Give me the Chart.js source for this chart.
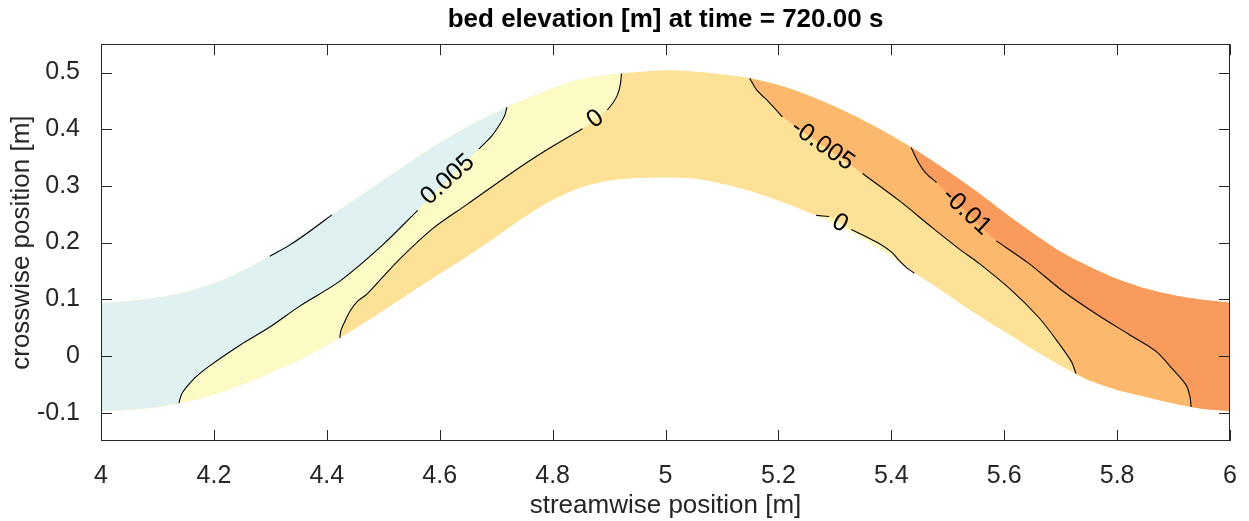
<!DOCTYPE html>
<html>
<head>
<meta charset="utf-8">
<script src="https://cdn.jsdelivr.net/npm/chart.js@4.4.1/dist/chart.umd.min.js"></script>
<style>
  html, body { margin: 0; padding: 0; background: #fff; }
  #bed { display: block; }
</style>
</head>
<body>
<canvas id="bed" width="1249" height="521"></canvas>
<script>
// ===== BED ELEVATION CONTOUR PLOT =====

const X_TICKS = [4, 4.2, 4.4, 4.6, 4.8, 5, 5.2, 5.4, 5.6, 5.8, 6];
const Y_TICKS = [-0.1, 0, 0.1, 0.2, 0.3, 0.4, 0.5];

// channel banks
const STATIONS = [4.00, 4.05, 4.10, 4.15, 4.20, 4.25, 4.30, 4.35, 4.40, 4.45, 4.50,
                  4.55, 4.60, 4.65, 4.70, 4.75, 4.80, 4.85, 4.90, 4.95, 5.00,
                  5.05, 5.10, 5.15, 5.20, 5.25, 5.30, 5.35, 5.40, 5.45, 5.50,
                  5.55, 5.60, 5.65, 5.70, 5.75, 5.80, 5.85, 5.90, 5.95, 6.00];
const BANK_UPPER = [0.093, 0.097, 0.103, 0.113, 0.128, 0.150, 0.177, 0.209, 0.243, 0.276, 0.310,
                    0.344, 0.376, 0.405, 0.430, 0.452, 0.472, 0.488, 0.496, 0.501, 0.504,
                    0.502, 0.497, 0.490, 0.478, 0.461, 0.440, 0.416, 0.389, 0.359, 0.326,
                    0.291, 0.253, 0.217, 0.184, 0.158, 0.136, 0.119, 0.107, 0.099, 0.094];
const BANK_LOWER = [-0.097, -0.095, -0.090, -0.081, -0.068, -0.050, -0.029, -0.007, 0.019, 0.048, 0.080,
                    0.113, 0.145, 0.177, 0.210, 0.245, 0.275, 0.297, 0.309, 0.314, 0.315,
                    0.313, 0.304, 0.291, 0.274, 0.255, 0.233, 0.207, 0.175, 0.141, 0.108,
                    0.074, 0.043, 0.012, -0.017, -0.043, -0.060, -0.072, -0.084, -0.093, -0.097];

// contour lines as [x, y]; null = gap left for the label
const C_P010 = [[4.299, 0.176], [4.335, 0.196], [4.370, 0.220], [4.409, 0.249]];
const C_P005 = [[4.138, -0.083], [4.143, -0.067], [4.154, -0.052], [4.170, -0.035], [4.193, -0.017],
                [4.246, 0.019], [4.299, 0.051], [4.352, 0.088], [4.423, 0.132], [4.499, 0.196],
                [4.561, 0.257], null, [4.669, 0.365], [4.692, 0.388], [4.706, 0.408],
                [4.715, 0.424], [4.719, 0.439]];
const C_ZERO_L = [[4.423, 0.032], [4.425, 0.045], [4.432, 0.061], [4.441, 0.079], [4.455, 0.097],
                  [4.471, 0.109], [4.499, 0.139], [4.529, 0.171], [4.588, 0.225], [4.648, 0.267],
                  [4.742, 0.333], [4.795, 0.367], [4.853, 0.401], null, [4.897, 0.434],
                  [4.908, 0.448], [4.915, 0.461], [4.920, 0.479], [4.922, 0.498]];
const C_ZERO_R = [[5.267, 0.248], [5.290, 0.246], null, [5.329, 0.223], [5.358, 0.209],
                  [5.379, 0.198], [5.402, 0.182], [5.414, 0.168], [5.428, 0.155], [5.441, 0.146]];
const C_M005 = [[5.149, 0.490], [5.161, 0.470], [5.184, 0.447], [5.207, 0.422], null,
                [5.349, 0.322], [5.414, 0.274], [5.473, 0.226], [5.520, 0.189], [5.556, 0.163],
                [5.614, 0.115], [5.662, 0.067], [5.697, 0.022], [5.719, -0.010], [5.727, -0.031]];
const C_M010 = [[5.435, 0.368], [5.446, 0.345], [5.460, 0.324], [5.480, 0.306], null,
                [5.586, 0.203], [5.644, 0.163], [5.703, 0.115], [5.763, 0.074], [5.821, 0.038],
                [5.869, 0.008], [5.897, -0.022], [5.922, -0.051], [5.929, -0.072], [5.931, -0.090]];

const LABELS = [
  { text: '0.005',  x: 4.614, y: 0.311, angle: -42 },
  { text: '0',      x: 4.876, y: 0.418, angle: -37 },
  { text: '-0.005', x: 5.278, y: 0.372, angle: 35 },
  { text: '-0.01',  x: 5.533, y: 0.255, angle: 43 },
  { text: '0',      x: 5.309, y: 0.234, angle: 30 },
];

const FILL = {
  p010: '#c4e3ec',
  p005: '#dff1f1',
  zero: '#fcfbc5',
  m005: '#fce196',
  m010: '#fcb96e',
  m015: '#fa9b5e',
};

const FONT = 'Liberation Sans, Arial, Helvetica, sans-serif';
const INK = '#262626';

// ----- geometry helpers -----
const toPts = (xs, ys) => xs.map((x, i) => ({ x, y: ys[i] }));
const UPPER = toPts(STATIONS, BANK_UPPER);
const LOWER = toPts(STATIONS, BANK_LOWER);
const between = (bank, a, b) => bank.filter(p => p.x > a && p.x < b);
const solid = c => c.filter(Boolean).map(([x, y]) => ({ x, y }));
const broken = c => c.map((p, i) => p ? { x: p[0], y: p[1] } : { x: c[i - 1][0], y: null });
const first = c => c[0][0];
const last = c => c[c.length - 1][0];
const rev = a => a.slice().reverse();
// repeat the joint points so the smoothed outline keeps its corners
const sharp = (...parts) => parts.filter(p => p.length).flatMap((p, i, all) => {
  const out = p.slice();
  if (i > 0) out.unshift(p[0]);
  if (i < all.length - 1) out.push(p[p.length - 1]);
  return out;
});

const channel = sharp(LOWER, rev(UPPER));
const leftZero = sharp(between(LOWER, 3.9, first(C_ZERO_L)), solid(C_ZERO_L),
                       rev(between(UPPER, 3.9, last(C_ZERO_L))));
const leftP005 = sharp(between(LOWER, 3.9, first(C_P005)), solid(C_P005),
                       rev(between(UPPER, 3.9, last(C_P005))));
const sliverP010 = sharp(solid(C_P010), rev(between(UPPER, first(C_P010), last(C_P010))));
const rightM010 = sharp(solid(C_M005), between(LOWER, last(C_M005), 6.1),
                        rev(between(UPPER, first(C_M005), 6.1)));
const rightM015 = sharp(solid(C_M010), between(LOWER, last(C_M010), 6.1),
                        rev(between(UPPER, first(C_M010), 6.1)));
const sliverZero = sharp(solid(C_ZERO_R), rev(between(LOWER, first(C_ZERO_R), last(C_ZERO_R))));

const shape = (label, data, color, order) => ({
  label, data, order,
  backgroundColor: color,
  borderColor: 'rgba(0,0,0,0)',
  borderWidth: 0,
  fill: 'shape',
  showLine: true,
  pointRadius: 0,
  tension: 0.3,
});

const contour = (label, c) => ({
  label, data: broken(c), order: 0,
  borderColor: '#000',
  borderWidth: 1.1,
  fill: false,
  showLine: true,
  spanGaps: false,
  pointRadius: 0,
  tension: 0.3,
});

// ticks pointing inward on all four sides, plus the box
const frame = {
  id: 'frame',
  afterDraw(chart) {
    const { ctx, chartArea: a, scales: { x, y } } = chart;
    const len = 11;
    ctx.save();
    ctx.strokeStyle = INK;
    ctx.lineWidth = 1;
    ctx.beginPath();
    X_TICKS.forEach(v => {
      const px = Math.round(x.getPixelForValue(v)) + 0.5;
      ctx.moveTo(px, a.bottom); ctx.lineTo(px, a.bottom - len);
      ctx.moveTo(px, a.top); ctx.lineTo(px, a.top + len);
    });
    Y_TICKS.forEach(v => {
      const py = Math.round(y.getPixelForValue(v)) + 0.5;
      ctx.moveTo(a.left, py); ctx.lineTo(a.left + len, py);
      ctx.moveTo(a.right, py); ctx.lineTo(a.right - len, py);
    });
    ctx.stroke();
    ctx.strokeRect(Math.round(a.left) + 0.5, Math.round(a.top) + 0.5,
                   Math.round(a.width) - 1, Math.round(a.height) - 1);
    ctx.restore();
  },
};

// rotated level labels sitting in the contour gaps
const levelLabels = {
  id: 'levelLabels',
  afterDatasetsDraw(chart) {
    const { ctx, scales: { x, y } } = chart;
    ctx.save();
    ctx.fillStyle = '#000';
    ctx.font = '25px ' + FONT;
    ctx.textAlign = 'center';
    ctx.textBaseline = 'middle';
    LABELS.forEach(l => {
      ctx.save();
      ctx.translate(x.getPixelForValue(l.x), y.getPixelForValue(l.y));
      ctx.rotate(l.angle * Math.PI / 180);
      ctx.fillText(l.text, 0, 0);
      ctx.restore();
    });
    ctx.restore();
  },
};

const fmt = v => String(Math.round(v * 10) / 10);

new Chart(document.getElementById('bed'), {
  type: 'scatter',
  data: {
    datasets: [
      shape('channel', channel, FILL.m005, 10),
      shape('left 0', leftZero, FILL.zero, 9),
      shape('left 0.005', leftP005, FILL.p005, 8),
      shape('left 0.01', sliverP010, FILL.p010, 7),
      shape('right -0.005', rightM010, FILL.m010, 6),
      shape('right -0.01', rightM015, FILL.m015, 5),
      shape('right 0', sliverZero, FILL.zero, 4),
      contour('c 0.01', C_P010),
      contour('c 0.005', C_P005),
      contour('c 0 left', C_ZERO_L),
      contour('c 0 right', C_ZERO_R),
      contour('c -0.005', C_M005),
      contour('c -0.01', C_M010),
    ],
  },
  options: {
    responsive: false,
    animation: false,
    events: [],
    layout: { padding: { left: 0, right: 18, top: 0, bottom: 0 } },
    plugins: {
      legend: { display: false },
      tooltip: { enabled: false },
      title: {
        display: true,
        fullSize: false,
        text: 'bed elevation [m] at time = 720.00 s',
        color: '#000',
        font: { family: FONT, size: 26, weight: 'bold' },
        padding: { top: 4, bottom: 9 },
      },
    },
    scales: {
      x: {
        type: 'linear', position: 'bottom',
        min: 4, max: 6,
        afterBuildTicks: s => { s.ticks = X_TICKS.map(v => ({ value: v })); },
        afterFit: s => { s.height = 80; },
        grid: { display: false },
        border: { display: false },
        ticks: {
          color: INK, padding: 12, maxRotation: 0, autoSkip: false,
          font: { family: FONT, size: 25 },
          callback: fmt,
        },
        title: {
          display: true, text: 'streamwise position [m]', color: INK,
          font: { family: FONT, size: 26 },
          padding: { top: 0, bottom: 0 },
        },
      },
      y: {
        type: 'linear', position: 'left',
        min: -0.15, max: 0.55,
        afterBuildTicks: s => { s.ticks = Y_TICKS.map(v => ({ value: v })); },
        afterFit: s => { s.width = 101; },
        grid: { display: false },
        border: { display: false },
        ticks: {
          color: INK, padding: 13, autoSkip: false,
          font: { family: FONT, size: 25 },
          callback: fmt,
        },
        title: {
          display: true, text: 'crosswise position [m]', color: INK,
          font: { family: FONT, size: 26 },
          padding: { top: 6, bottom: 0 },
        },
      },
    },
  },
  plugins: [levelLabels, frame],
});
</script>
</body>
</html>
